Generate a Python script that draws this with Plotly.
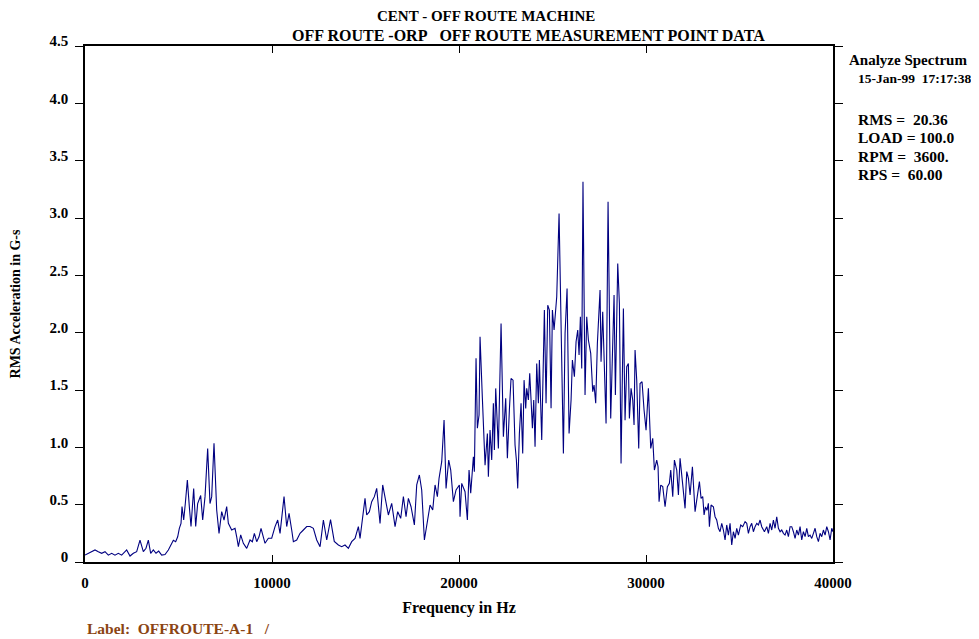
import plotly.graph_objects as go

freq_hz = [
    0, 178, 357, 535, 713, 891, 1070, 1248, 1426, 1604, 1783, 1961, 2228, 2407, 2585, 2763,
    2941, 3120, 3262, 3387, 3512, 3655, 3797, 3940, 4100, 4278, 4457, 4581, 4724, 4849, 4956,
    5045, 5134, 5188, 5277, 5366, 5473, 5580, 5669, 5812, 5919, 6025, 6186, 6293, 6418, 6560,
    6684, 6775, 6899, 7042, 7167, 7310, 7434, 7577, 7666, 7844, 8023, 8112, 8201, 8326, 8468,
    8647, 8825, 8950, 9057, 9182, 9306, 9413, 9627, 9806, 9984, 10162, 10305, 10430, 10644,
    10786, 10911, 11054, 11143, 11321, 11500, 11678, 11856, 12035, 12213, 12391, 12570, 12748,
    12926, 13130, 13330, 13549, 13727, 13905, 14084, 14262, 14440, 14619, 14708, 14797, 14975,
    15064, 15207, 15332, 15474, 15599, 15777, 15920, 16045, 16223, 16401, 16580, 16722, 16883,
    17026, 17168, 17293, 17436, 17614, 17739, 17881, 18006, 18149, 18309, 18452, 18595, 18719,
    18844, 18933, 19076, 19201, 19308, 19450, 19557, 19700, 19842, 20020, 20055, 20145, 20323,
    20448, 20537, 20626, 20769, 20822, 20911, 20983, 21072, 21125, 21250, 21393, 21518, 21571,
    21660, 21749, 21838, 21892, 21963, 22106, 22249, 22373, 22498, 22587, 22694, 22783, 22890,
    22997, 23069, 23140, 23229, 23318, 23407, 23479, 23568, 23621, 23711, 23782, 23853, 23925,
    23996, 24067, 24156, 24245, 24299, 24424, 24566, 24655, 24745, 24834, 24923, 24994, 25084,
    25226, 25351, 25458, 25583, 25672, 25779, 25886, 25993, 26064, 26171, 26260, 26349, 26421,
    26492, 26563, 26630, 26740, 26830, 26919, 27044, 27151, 27222, 27311, 27400, 27543, 27596,
    27685, 27864, 27971, 28113, 28292, 28363, 28488, 28577, 28666, 28791, 28880, 28969, 29058,
    29112, 29201, 29290, 29361, 29415, 29504, 29611, 29682, 29789, 29896, 30003, 30128, 30253,
    30360, 30449, 30574, 30645, 30699, 30788, 30895, 31020, 31144, 31251, 31323, 31430, 31519,
    31644, 31733, 31822, 31947, 32089, 32179, 32268, 32357, 32482, 32624, 32713, 32856, 32945,
    33034, 33106, 33180, 33260, 33336, 33391, 33479, 33604, 33693, 33782, 33871, 33960, 34050,
    34139, 34228, 34317, 34406, 34495, 34584, 34674, 34763, 34852, 34941, 35066, 35173, 35298,
    35387, 35476, 35565, 35654, 35743, 35832, 35922, 36011, 36100, 36189, 36332, 36457, 36546,
    36635, 36724, 36813, 36902, 36991, 37081, 37170, 37259, 37348, 37437, 37526, 37615, 37704,
    37794, 37883, 37972, 38061, 38150, 38239, 38328, 38418, 38507, 38596, 38685, 38774, 38863,
    38953, 39042, 39131, 39220, 39309, 39398, 39487, 39577, 39666, 39755, 39844, 39933, 40000,
]

rms_accel_g = [
    0.06, 0.076, 0.09, 0.105, 0.09, 0.076, 0.09, 0.06, 0.076, 0.06, 0.076, 0.06, 0.105, 0.052, 0.076, 0.09,
    0.19, 0.09, 0.12, 0.19, 0.076, 0.105, 0.076, 0.095, 0.06, 0.065, 0.105, 0.148, 0.19, 0.177, 0.22,
    0.294, 0.337, 0.483, 0.366, 0.512, 0.715, 0.48, 0.31, 0.64, 0.31, 0.51, 0.58, 0.366, 0.57, 0.99,
    0.51, 0.57, 1.035, 0.453, 0.25, 0.44, 0.366, 0.483, 0.337, 0.279, 0.294, 0.22, 0.134, 0.236, 0.163,
    0.119, 0.192, 0.177, 0.25, 0.177, 0.22, 0.294, 0.163, 0.207, 0.207, 0.309, 0.366, 0.25, 0.57,
    0.309, 0.424, 0.279, 0.177, 0.192, 0.25, 0.279, 0.309, 0.309, 0.294, 0.192, 0.134, 0.366,
    0.192, 0.37, 0.18, 0.148, 0.134, 0.148, 0.119, 0.177, 0.206, 0.308, 0.206, 0.323, 0.555,
    0.41, 0.439, 0.526, 0.57, 0.642, 0.337, 0.672, 0.57, 0.41, 0.512, 0.308, 0.439, 0.381,
    0.57, 0.395, 0.555, 0.482, 0.323, 0.672, 0.759, 0.628, 0.192, 0.337, 0.497, 0.453, 0.672,
    0.57, 0.73, 0.875, 1.238, 0.642, 0.889, 0.802, 0.526, 0.628, 0.672, 0.395, 0.686, 0.613,
    0.366, 0.802, 0.599, 0.918, 0.788, 1.776, 1.166, 1.282, 1.965, 1.427, 0.845, 1.12, 0.744,
    1.15, 0.889, 1.384, 0.976, 1.514, 0.99, 2.08, 1.093, 1.427, 0.904, 1.325, 1.601, 1.586,
    1.02, 0.889, 0.642, 1.12, 1.384, 0.947, 1.586, 1.34, 1.514, 1.413, 1.645, 1.413, 1.166,
    1.413, 1.005, 1.732, 1.384, 1.761, 1.064, 2.197, 1.384, 2.24, 2.197, 1.34, 2.197, 2.023,
    2.313, 3.04, 1.965, 0.947, 1.994, 2.386, 1.12, 1.413, 1.761, 1.616, 1.921, 2.023, 1.805,
    2.139, 1.688, 3.316, 1.456, 2.139, 1.936, 1.82, 1.485, 1.543, 1.384, 1.907, 2.372, 1.747,
    2.182, 1.208, 3.142, 1.252, 2.328, 1.456, 2.604, 2.255, 0.86, 2.211, 1.237, 1.703, 1.732,
    1.252, 1.514, 1.413, 1.195, 1.849, 1.586, 0.99, 1.557, 1.572, 1.325, 1.15, 1.514, 0.99,
    1.078, 0.802, 0.889, 0.831, 0.526, 0.671, 0.657, 0.482, 0.657, 0.686, 0.802, 0.57, 0.889,
    0.802, 0.584, 0.904, 0.701, 0.468, 0.788, 0.73, 0.584, 0.831, 0.439, 0.555, 0.701, 0.555,
    0.57, 0.41, 0.48, 0.45, 0.512, 0.308, 0.497, 0.482, 0.395, 0.366, 0.294, 0.264, 0.337,
    0.279, 0.192, 0.323, 0.235, 0.337, 0.148, 0.264, 0.206, 0.294, 0.235, 0.323, 0.308, 0.352,
    0.337, 0.25, 0.308, 0.337, 0.264, 0.308, 0.337, 0.323, 0.366, 0.308, 0.264, 0.308, 0.25,
    0.337, 0.279, 0.366, 0.294, 0.395, 0.294, 0.264, 0.279, 0.25, 0.235, 0.279, 0.221, 0.308,
    0.308, 0.264, 0.206, 0.279, 0.235, 0.308, 0.192, 0.264, 0.221, 0.294, 0.221, 0.235, 0.206,
    0.25, 0.294, 0.221, 0.177, 0.25, 0.221, 0.279, 0.235, 0.308, 0.264, 0.192, 0.294, 0.264,
]

x_tick_vals = [0, 10000, 20000, 30000, 40000]
x_tick_text = ["0", "10000", "20000", "30000", "40000"]
y_tick_vals = [0, 0.5, 1.0, 1.5, 2.0, 2.5, 3.0, 3.5, 4.0, 4.5]
y_tick_text = ["0", "0.5", "1.0", "1.5", "2.0", "2.5", "3.0", "3.5", "4.0", "4.5"]

NB = "\u00a0"
title_line1 = "CENT - OFF ROUTE MACHINE"
title_line2 = "OFF ROUTE -ORP" + NB * 3 + "OFF ROUTE MEASUREMENT POINT DATA"
side_info = ["Analyze Spectrum", "15-Jan-99" + NB * 2 + "17:17:38", "RMS =" + NB * 2 + "20.36",
             "LOAD = 100.0", "RPM =" + NB * 2 + "3600.", "RPS =" + NB * 2 + "60.00"]
label_text = "Label:" + NB * 2 + "OFFROUTE-A-1" + NB * 3 + "/"

SERIF = "Liberation Serif"


def bold(size, color="black"):
    return dict(family=SERIF, size=size, color=color, weight="bold")


fig = go.Figure()
fig.add_trace(go.Scatter(
    x=freq_hz, y=rms_accel_g, mode="lines",
    line=dict(color="#000080", width=1.1), hoverinfo="x+y", showlegend=False,
))

# page has an 8px body margin, so the figure is shifted accordingly
fig.update_layout(
    width=971, height=631,
    margin=dict(l=77, r=146, t=38, b=77),
    paper_bgcolor="white", plot_bgcolor="white",
    font=dict(family=SERIF, size=15, color="black"),
    showlegend=False,
)
fig.update_xaxes(
    range=[0, 40000], tickvals=x_tick_vals, ticktext=x_tick_text,
    ticks="inside", ticklen=7, tickwidth=1, tickcolor="black",
    showline=True, linecolor="black", linewidth=1.5, mirror="ticks",
    showgrid=False, zeroline=False, tickfont=bold(15), ticklabelstandoff=6,
    automargin=False,
    title=dict(text="Frequency in Hz", font=bold(16), standoff=12),
)
fig.update_yaxes(
    range=[0, 4.5], tickvals=y_tick_vals, ticktext=y_tick_text,
    ticks="outside", ticklen=8, tickwidth=1, tickcolor="black",
    showline=True, linecolor="black", linewidth=1.5, mirror="ticks",
    showgrid=False, zeroline=False, tickfont=bold(15), ticklabelstandoff=4,
    ticklabelshift=-5, automargin=False,
    title=dict(text="RMS Acceleration in G-s", font=bold(14), standoff=26),
)


def px(xpage):
    return (xpage - 85) / 748


def py(ypage):
    return (562 - ypage) / 516


fig.add_annotation(text=title_line1, xref="paper", yref="paper", x=px(375), y=py(16),
                   xanchor="left", yanchor="middle", showarrow=False, font=bold(15))
fig.add_annotation(text=title_line2, xref="paper", yref="paper", x=px(290), y=py(36),
                   xanchor="left", yanchor="middle", showarrow=False, font=bold(16))

side_y = [60, 78, 119, 137, 156, 174]
side_x = [847, 856, 856, 856, 856, 856]
side_size = [15, 13.5, 15.5, 15.5, 15.5, 15.5]
for txt, yy, xx, sz in zip(side_info, side_y, side_x, side_size):
    fig.add_annotation(text=txt, xref="paper", yref="paper", x=px(xx), y=py(yy),
                       xanchor="left", yanchor="middle", showarrow=False, font=bold(sz))

fig.add_annotation(text=label_text, xref="paper", yref="paper", x=px(85), y=py(628),
                   xanchor="left", yanchor="middle", showarrow=False,
                   font=bold(15.5, "#8B4513"))

fig.write_html("out.html")
